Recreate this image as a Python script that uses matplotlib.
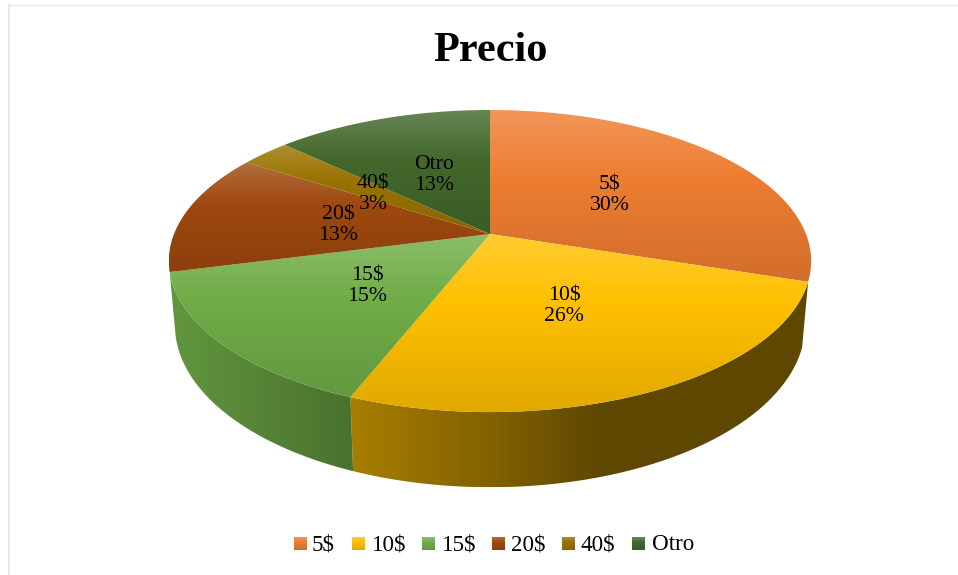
import matplotlib
matplotlib.use('Agg')
import matplotlib.pyplot as plt
from matplotlib.colors import to_rgb
from matplotlib.patches import Polygon
import numpy as np

plt.rcParams['font.family'] = ['Liberation Serif', 'DejaVu Serif']

# data
title = 'Precio'
categories = ['5$', '10$', '15$', '20$', '40$', 'Otro']
values = [30, 26, 15, 13, 3, 13]
colors = ['#ED7D31', '#FFC000', '#70AD47', '#9E480E', '#997300', '#43682B']

# where things sit, in pixels of the 958x575 picture
label_xy = [(610, 195), (564, 306), (367, 286), (338, 225), (373, 194), (434, 175)]
legend_box_x = [294, 352, 422, 492, 562, 632]
legend_text_x = [312, 372, 442, 511, 581, 652]
side_slices = [1, 2]

# pie shape: a circle seen in perspective
cx, cy = 490, 234
k = 0.179
top_r, top_a = 316, 146.2
bot_r, bot_a, bot_y = 310, 157, 296


def project(theta, r, a, y0):
    # theta is clockwise from 12 o'clock, in degrees
    t = np.radians(theta)
    w = 1 + k * np.cos(t)
    return cx + r * np.sin(t) / w, y0 - a * np.cos(t) / w


def shade(c, f):
    c = np.array(to_rgb(c))
    if f > 1:
        return c + (1 - c) * (f - 1)
    return c * f


def fill_gradient(ax, pts, img):
    xs, ys = pts[:, 0], pts[:, 1]
    x0, x1, y0, y1 = xs.min(), xs.max(), ys.min(), ys.max()
    im = ax.imshow(img, extent=(x0, x1, y1, y0), aspect='auto', zorder=2,
                   interpolation='bilinear')
    im.set_clip_path(Polygon(pts, closed=True, transform=ax.transData))


def vertical_gradient(c, light=1.2, mid=0.4, dark=0.88):
    u = np.linspace(0, 1, 200)
    f = np.interp(u, [0, mid, 1], [light, 1, dark])
    return np.array([[shade(c, v)] for v in f])


fig = plt.figure(figsize=(9.58, 5.75), dpi=100)
ax = fig.add_axes([0, 0, 1, 1])
ax.axis('off')

edges = np.concatenate([[0], np.cumsum(values)]) * 360 / sum(values)

# side wall of the slices facing us
for i in side_slices:
    th = np.linspace(edges[i], edges[i + 1], 120)
    tx, ty = project(th, top_r, top_a, cy)
    bx, by = project(th, bot_r, bot_a, bot_y)
    pts = np.column_stack([np.r_[tx, bx[::-1]], np.r_[ty, by[::-1]]])
    xs = np.linspace(pts[:, 0].min(), pts[:, 0].max(), 300)
    f = np.interp(xs, [170, 350, 500, 600, 810], [0.87, 0.66, 0.5, 0.37, 0.37])
    img = np.array([[shade(colors[i], v) for v in f]])
    fill_gradient(ax, pts, img)

# top of the pie
for i in range(len(values)):
    th = np.linspace(edges[i], edges[i + 1], 120)
    x, y = project(th, top_r, top_a, cy)
    pts = np.column_stack([np.r_[cx, x], np.r_[cy, y]])
    fill_gradient(ax, pts, vertical_gradient(colors[i]))

for i, (x, y) in enumerate(label_xy):
    ax.text(x, y, f'{categories[i]}\n{values[i]}%', ha='center', va='center',
            fontsize=15.7, linespacing=1.1, color='black', zorder=3)

ax.text(490, 51, title, ha='center', va='center', fontsize=30.4,
        fontweight='bold', color='black')

# legend
for i, name in enumerate(categories):
    ax.imshow(vertical_gradient(colors[i]),
              extent=(legend_box_x[i], legend_box_x[i] + 13, 550, 537),
              aspect='auto', zorder=2)
    ax.text(legend_text_x[i], 545, name, ha='left', va='center', fontsize=16.6,
            color='black')

# faint frame of the chart area
ax.plot([9, 9], [575, 5], color='#E6E8EC', lw=1.5, zorder=1)
ax.plot([9, 958], [5, 5], color='#E8E8E8', lw=1, zorder=1)

ax.set_xlim(0, 958)
ax.set_ylim(575, 0)
fig.savefig('out.png', dpi=100)
